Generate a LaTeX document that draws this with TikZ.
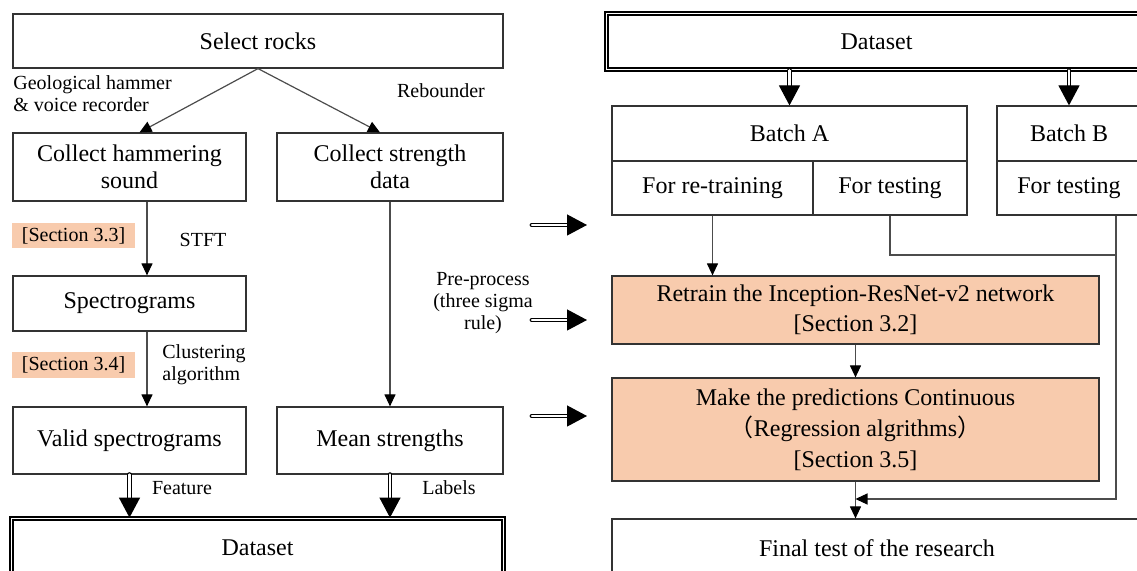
\documentclass[tikz,border=0pt]{standalone}
\usepackage{fontspec}
\setmainfont{Liberation Serif}
\newfontfamily\cjk{Noto Sans CJK SC}
\usetikzlibrary{arrows.meta}
\definecolor{peach}{HTML}{F8CBAD}
\begin{document}
\begin{tikzpicture}[x=0.5pt,y=-0.5pt,font=\fontsize{12}{13.5}\selectfont,
  box/.style={draw=black!80,line width=0.6pt,inner sep=1pt,align=center},
  dbox/.style={box,draw=black,line width=0.9pt,double,double distance=0.8pt},
  lbl/.style={inner sep=0pt,font=\fontsize{10}{11}\selectfont},
  hl/.style={lbl,fill=peach},
  conn/.style={draw=black!70,line width=0.6pt},
  arr/.style={conn,-{Triangle[length=6pt,width=5.5pt,color=black]}},
  dblarr/.style={draw=black,double,double distance=1.2pt,line width=0.6pt,line cap=round,-{Triangle[length=10pt,width=10.5pt]}}]
\useasboundingbox (0,0) rectangle (1137,571);
\node[box,minimum width=245pt,minimum height=27pt] (rocks) at (258,41) {Select rocks};
\node[box,minimum width=116.5pt,minimum height=34pt] (hammer) at (129.5,167) {Collect hammering\\sound};
\node[box,minimum width=113pt,minimum height=34pt] (strength) at (390,167) {Collect strength\\data};
\node[box,minimum width=116.5pt,minimum height=27.5pt] (spec) at (129.5,303.5) {Spectrograms};
\node[box,minimum width=116.5pt,minimum height=33.5pt] (valid) at (129.5,440.5) {Valid spectrograms};
\node[box,minimum width=113pt,minimum height=33.5pt] (mean) at (390,440.5) {Mean strengths};
\node[dbox,minimum width=246pt,minimum height=29.5pt] (dsL) at (257.5,548) {Dataset};
\node[lbl,align=left,anchor=west] (geo) at (13,94) {Geological hammer\\\& voice recorder};
\node[lbl] (reb) at (441,91) {Rebounder};
\node[hl,minimum width=61.5pt,minimum height=12.5pt] (s33) at (73.5,235.5) {[Section 3.3]};
\node[lbl] (stft) at (203,240) {STFT};
\node[hl,minimum width=61.5pt,minimum height=13pt] (s34) at (73.5,365) {[Section 3.4]};
\node[lbl,align=left,anchor=west] (clu) at (162,365) {Clustering\\algorithm};
\node[lbl,align=center] (pre) at (483,303) {Pre-process\\(three sigma\\rule)};
\node[lbl] (feat) at (182,488) {Feature};
\node[lbl] (labs) at (449,488) {Labels};
\node[dbox,minimum width=270pt,minimum height=28pt] (dsR) at (876.5,41.5) {Dataset};
\node[box,minimum width=177.5pt,minimum height=27.5pt] (batA) at (789.5,133.5) {Batch A};
\node[box,minimum width=100.5pt,minimum height=27pt] (reA) at (712.5,188) {For re-training};
\node[box,minimum width=77pt,minimum height=27pt] (teA) at (890,188) {For testing};
\node[box,minimum width=72pt,minimum height=27.5pt] (batB) at (1069,133.5) {Batch B};
\node[box,minimum width=72pt,minimum height=27pt] (teB) at (1069,188) {For testing};
\node[box,fill=peach,font=\fontsize{12}{15}\selectfont,minimum width=243.5pt,minimum height=34pt] (ret) at (855.5,310) {Retrain the Inception-ResNet-v2 network\\{}[Section 3.2]};
\node[box,fill=peach,font=\fontsize{12}{15.5}\selectfont,minimum width=243.5pt,minimum height=51.5pt] (mk) at (855.5,429.5) {Make the predictions Continuous\\{\cjk （}Regression algrithms{\cjk ）}\\{}[Section 3.5]};
\node[box,minimum width=265pt,minimum height=29pt] (fin) at (877,548) {Final test of the research};
\coordinate (lx) at (147,0);
\coordinate (jn) at (1116,255);
\coordinate (mg) at (1116,499);
\draw[arr] (rocks.south) -- ([xshift=5pt]hammer.north);
\draw[arr] (rocks.south) -- ([xshift=-5pt]strength.north);
\draw[arr] (hammer.south -| lx) -- (spec.north -| lx);
\draw[arr] (spec.south -| lx) -- (valid.north -| lx);
\draw[arr] (strength.south) -- (mean.north);
\draw[dblarr] (valid.south) -- (valid.south |- dsL.north);
\draw[dblarr] (mean.south) -- (mean.south |- dsL.north);
\draw[dblarr] (dsR.south -| batA) -- (batA.north);
\draw[dblarr] (dsR.south -| batB) -- (batB.north);
\draw[arr] (reA.south) -- (reA.south |- ret.north);
\draw[arr] (ret.south) -- (mk.north);
\draw[arr] (mk.south) -- (mk.south |- fin.north);
\draw[conn] (teA.south) |- (jn);
\draw[arr] (jn |- teB.south) -- (mg) -- (mg -| mk.south);
\foreach \n/\y in {a/225,b/320,c/416} {\coordinate (p\n) at (532,\y); \coordinate (q\n) at (587,\y); \draw[dblarr] (p\n) -- (q\n);}
\end{tikzpicture}
\end{document}
